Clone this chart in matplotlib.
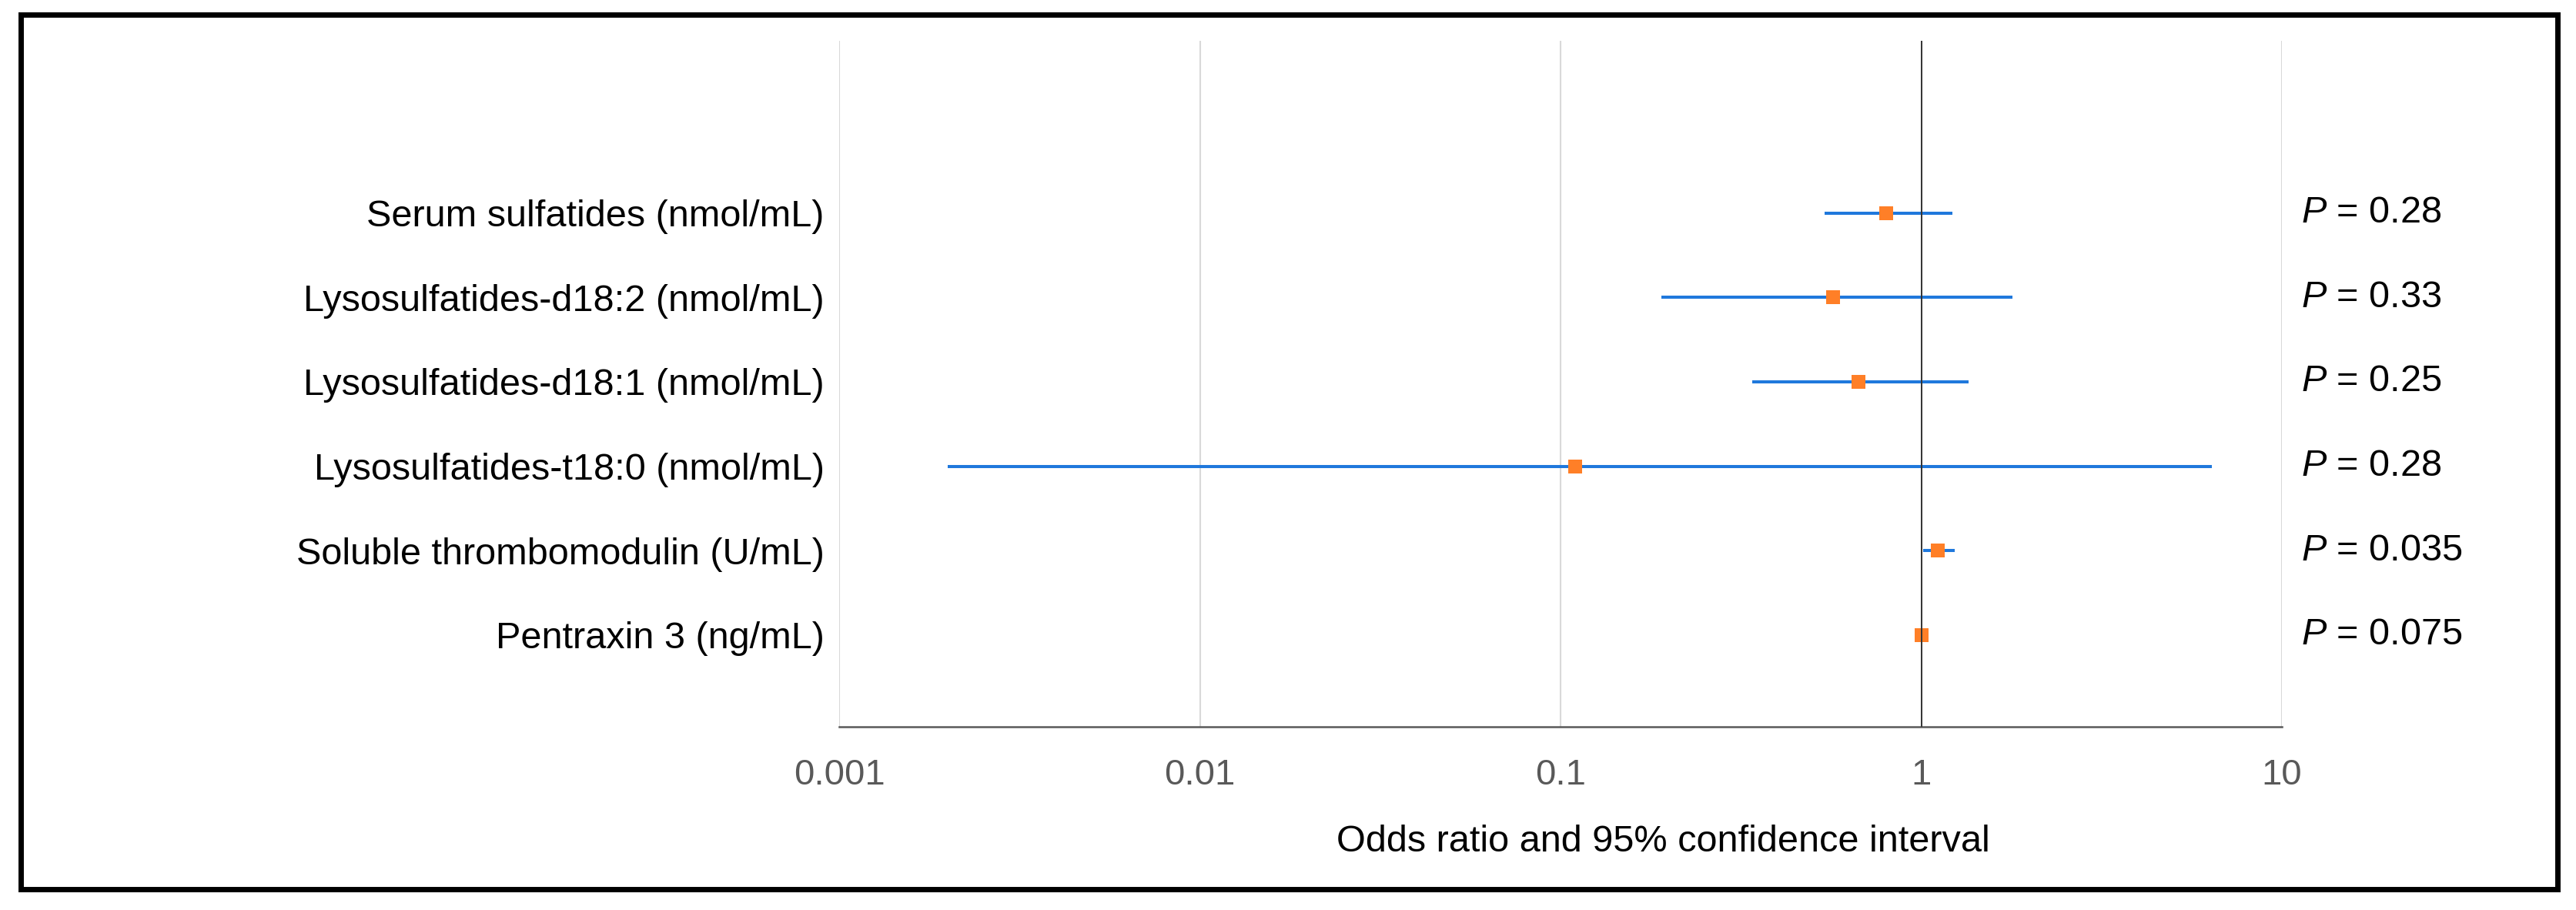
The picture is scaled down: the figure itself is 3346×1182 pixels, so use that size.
import matplotlib
matplotlib.use('Agg')
import matplotlib.pyplot as plt
from matplotlib.patches import Rectangle
import matplotlib.transforms as mtransforms

categories = [
    "Serum sulfatides (nmol/mL)",
    "Lysosulfatides-d18:2 (nmol/mL)",
    "Lysosulfatides-d18:1 (nmol/mL)",
    "Lysosulfatides-t18:0 (nmol/mL)",
    "Soluble thrombomodulin (U/mL)",
    "Pentraxin 3 (ng/mL)",
]
odds_ratio = [0.80, 0.57, 0.67, 0.11, 1.11, 1.00]
ci_lower = [0.54, 0.19, 0.34, 0.002, 1.01, 0.995]
ci_upper = [1.22, 1.79, 1.35, 6.4, 1.24, 1.005]
p_values = ["0.28", "0.33", "0.25", "0.28", "0.035", "0.075"]
x_ticks = [0.001, 0.01, 0.1, 1, 10]
x_tick_labels = ["0.001", "0.01", "0.1", "1", "10"]
x_label = "Odds ratio and 95% confidence interval"

plt.rcParams['font.family'] = ['Liberation Sans', 'DejaVu Sans']
plt.rcParams['mathtext.fontset'] = 'custom'
plt.rcParams['mathtext.rm'] = 'Liberation Sans'
plt.rcParams['mathtext.it'] = 'Liberation Sans:italic'

W, H = 3346, 1182
fig = plt.figure(figsize=(W / 100, H / 100), dpi=100)
ax = fig.add_axes([1090 / W, 1 - 944 / H, (2964 - 1090) / W, (944 - 53) / H])

n = len(categories)
ypos = list(range(n, 0, -1))

FS = 35
FS_TICK = 34

ax.hlines(ypos, ci_lower, ci_upper, color='#1F78DC', lw=2.9, zorder=2)
ax.plot(odds_ratio, ypos, linestyle='none', marker='s', ms=13, mew=0,
        color='#FF7F27', zorder=3)
ax.axvline(1, color='#333333', lw=1.4, zorder=4)

ax.set_xscale('log')
ax.set_xlim(0.001, 10)
ax.set_ylim(1 - 1.086, n + 2.04)
ax.set_xticks(x_ticks)
ax.set_xticklabels(x_tick_labels)
ax.xaxis.set_minor_locator(matplotlib.ticker.NullLocator())
ax.set_yticks(ypos)
ax.set_yticklabels(categories)
ax.tick_params(axis='x', length=0, pad=29.5, labelsize=FS_TICK, labelcolor='#595959')
ax.tick_params(axis='y', length=0, pad=14, labelsize=FS, labelcolor='black')

ax.grid(axis='x', which='major', color='#D9D9D9', lw=1.5, zorder=0)
ax.set_axisbelow(True)
for s in ['top', 'right', 'left']:
    ax.spines[s].set_visible(False)
ax.spines['bottom'].set_color('#595959')
ax.spines['bottom'].set_linewidth(1.8)

trans = mtransforms.blended_transform_factory(ax.transAxes, ax.transData)
for y, p in zip(ypos, p_values):
    ax.text(1.0133, y, "$P$ = " + p, transform=trans, ha='left', va='center',
            fontsize=FS, color='black')

fig.text(2160 / W, 1 - 1094 / H, x_label, ha='center', va='center',
         fontsize=FS, color='black')

fig.patches.append(Rectangle((26.5 / W, 1 - 1155 / H), (3322 - 26.5) / W,
                             (1155 - 18.5) / H, transform=fig.transFigure,
                             fill=False, lw=5, ec='black'))

fig.savefig('out.png', dpi=100)
